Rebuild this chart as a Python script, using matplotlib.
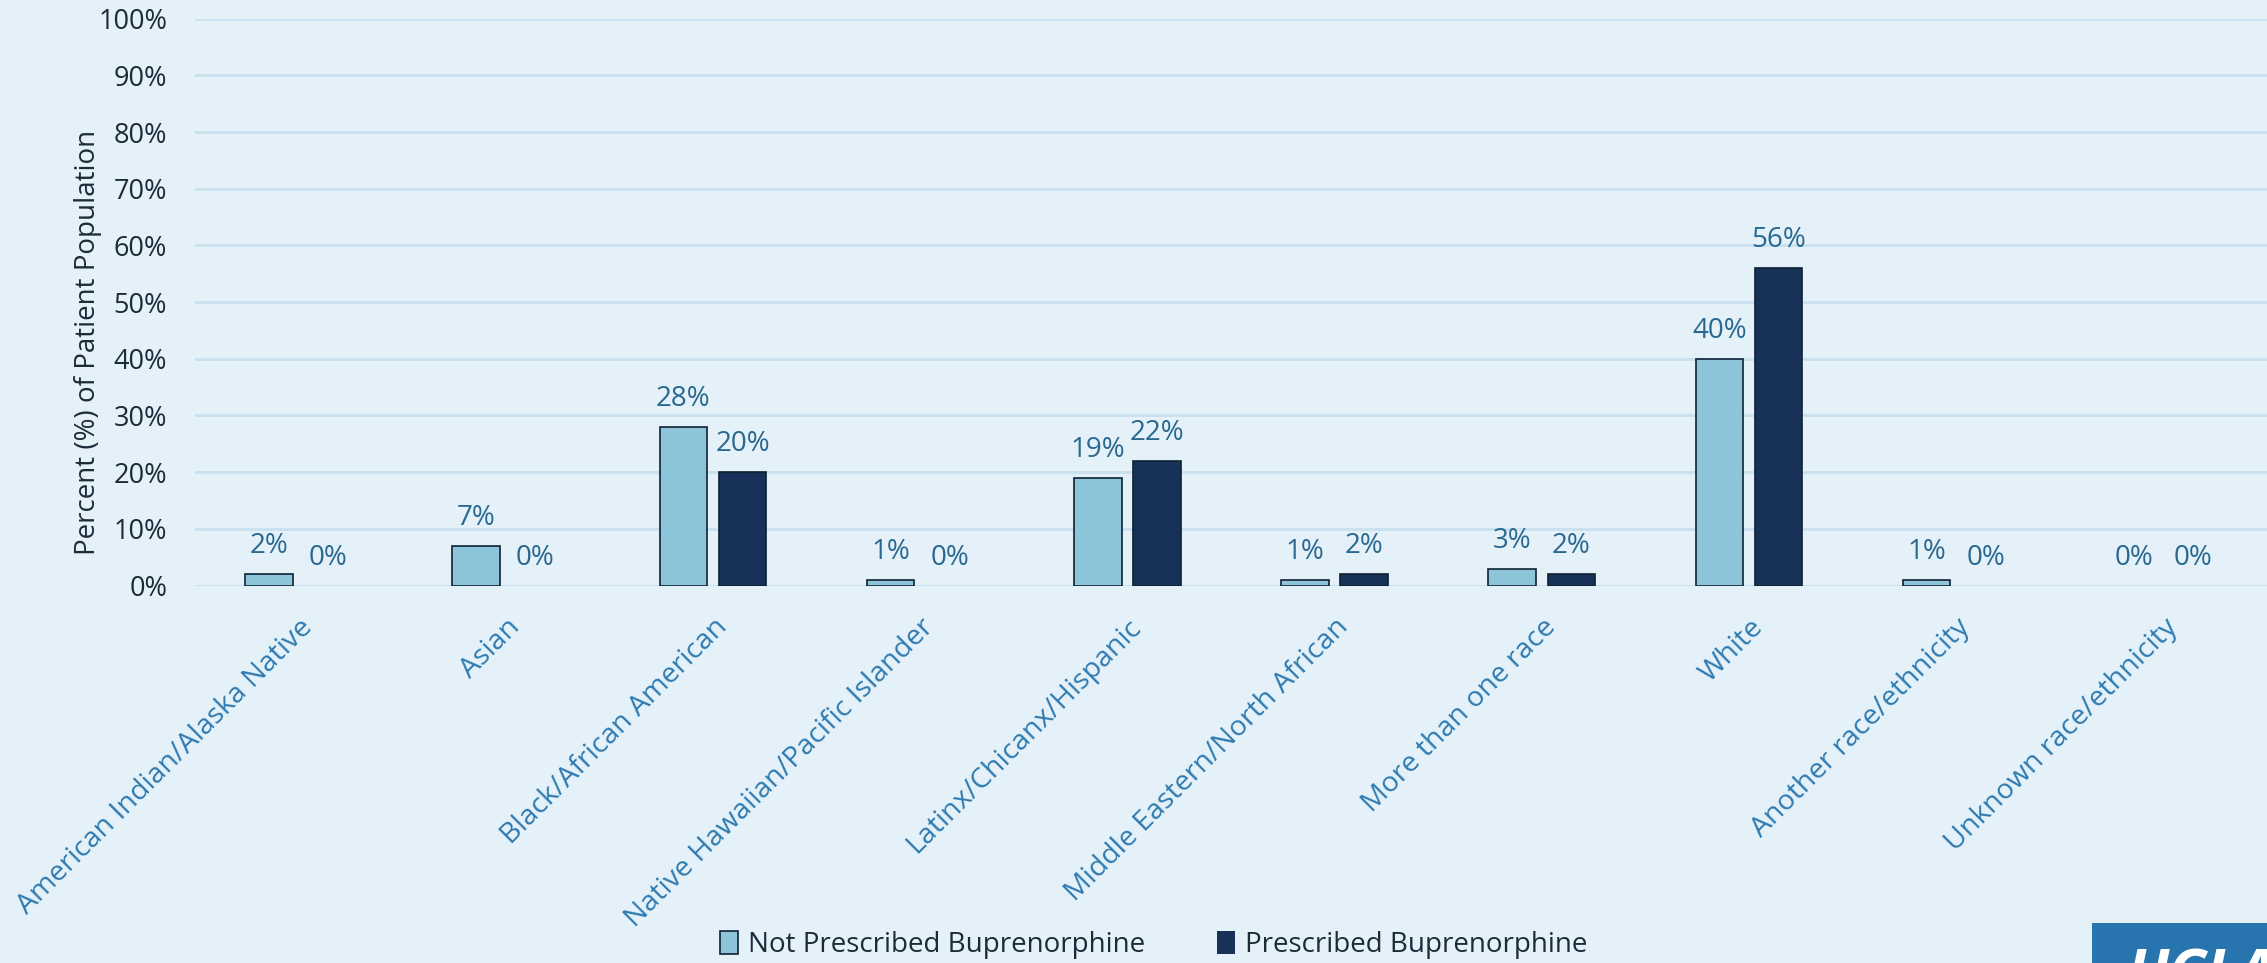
import numpy as np
import matplotlib.pyplot as plt
from matplotlib.patches import Rectangle

plt.rcParams['font.family'] = ['Open Sans', 'DejaVu Sans']

# chart data
categories = ['American Indian/Alaska Native', 'Asian', 'Black/African American',
              'Native Hawaiian/Pacific Islander', 'Latinx/Chicanx/Hispanic',
              'Middle Eastern/North African', 'More than one race', 'White',
              'Another race/ethnicity', 'Unknown race/ethnicity']
not_prescribed = [2, 7, 28, 1, 19, 1, 3, 40, 1, 0]
prescribed = [0, 0, 20, 0, 22, 2, 2, 56, 0, 0]
series_names = ['Not Prescribed Buprenorphine', 'Prescribed Buprenorphine']
yticks = np.arange(0, 101, 10)

bg = '#E4F1F8'
light = '#8CC4DA'
dark = '#183158'
edge = '#0F2233'
label_col = '#2A6890'
xtick_col = '#2E7AB0'
text_col = '#1C2B39'

fig = plt.figure(figsize=(22.67, 9.63), dpi=100, facecolor=bg)
ax = fig.add_axes([0.086, 0.392, 0.914, 0.5885])
ax.set_facecolor(bg)

x = np.arange(len(categories))
w = 0.23
off = 0.143
b1 = ax.bar(x - off, not_prescribed, w, color=light, edgecolor=edge, linewidth=1.2,
            label=series_names[0], zorder=3)
b2 = ax.bar(x + off, prescribed, w, color=dark, edgecolor=edge, linewidth=1.2,
            label=series_names[1], zorder=3)

for bars, vals in [(b1, not_prescribed), (b2, prescribed)]:
    for b, v in zip(bars, vals):
        if v == 0:
            b.set_linewidth(0)
        ax.annotate(f'{v}%', (b.get_x() + b.get_width() / 2, v),
                    xytext=(0, 20), textcoords='offset points',
                    ha='center', va='center', fontsize=20, color=label_col)

ax.set_xlim(-0.5, len(categories) - 0.5)
ax.set_ylim(0, 100)
ax.set_yticks(yticks)
ax.set_yticklabels([f'{t}%' for t in yticks], fontsize=19.5, color=text_col)
ax.set_xticks(x)
ax.set_xticklabels(categories, rotation=45, ha='right', rotation_mode='anchor',
                   fontsize=20.5, color=xtick_col)
ax.tick_params(axis='both', length=0)
ax.tick_params(axis='y', pad=20)
ax.tick_params(axis='x', pad=20)
ax.grid(axis='y', color='#C9E0EE', linewidth=2, zorder=0)
for s in ax.spines.values():
    s.set_visible(False)

fig.text(0.039, 0.644, 'Percent (%) of Patient Population', rotation=90,
         ha='center', va='center', fontsize=20, color=text_col)

fig.legend(loc='center', bbox_to_anchor=(0.509, 0.019), ncol=2, frameon=False,
           fontsize=20, labelcolor=text_col, handlelength=0.65, handleheight=0.9,
           handletextpad=0.35, columnspacing=2.6)

# logo block in the corner
fig.patches.append(Rectangle((0.923, 0), 0.08, 0.0415, transform=fig.transFigure,
                             facecolor='#2774AE', edgecolor='none', zorder=5))
fig.text(0.938, 0.016, 'UCLA', ha='left', va='top', fontsize=44, color='white',
         fontweight='bold', style='italic', zorder=6)

fig.savefig('out.png', dpi=100, facecolor=bg)
